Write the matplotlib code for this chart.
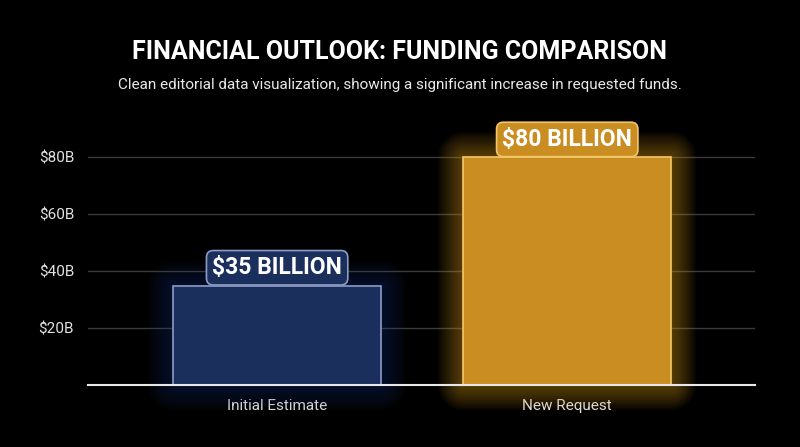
import matplotlib
matplotlib.use("Agg")
import matplotlib.pyplot as plt
import matplotlib.patheffects as pe

categories = ["Initial Estimate", "New Request"]
values = [35, 80]
value_labels = ["$35 BILLION", "$80 BILLION"]
yticks = [20, 40, 60, 80]
ytick_labels = ["$20B", "$40B", "$60B", "$80B"]

fills = ["#1b2f5c", "#c98d22"]
edges = ["#8c9cc4", "#f2c768"]
glows = ["#203c80", "#d89a1c"]
glow_alpha = [0.035, 0.045]

plt.rcParams["font.family"] = ["Roboto", "DejaVu Sans"]

fig = plt.figure(figsize=(8, 4.47), dpi=100, facecolor="black")
ax = fig.add_axes([0.11, 0.1376, 0.834, 0.574])
ax.set_facecolor("black")

bars = ax.bar(range(len(values)), values, width=0.717, color=fills,
              edgecolor=edges, linewidth=1.2, zorder=3, clip_on=False)
for b, g, a in zip(bars, glows, glow_alpha):
    # soft glow: stacked translucent strokes around the bar outline
    effects = [pe.Stroke(linewidth=w, foreground=g, alpha=a, joinstyle="round")
               for w in range(36, 0, -3)]
    b.set_path_effects(effects + [pe.Normal()])

for i, (v, lab) in enumerate(zip(values, value_labels)):
    ax.text(i, v + 6.3, lab, ha="center", va="center", color="white",
            fontsize=16.5, fontweight="bold", zorder=5, clip_on=False,
            bbox=dict(boxstyle="round,pad=0.25,rounding_size=0.3",
                      facecolor=fills[i], edgecolor=edges[i], linewidth=1.2))

ax.set_xlim(-0.652, 1.648)
ax.set_ylim(0, 90)
ax.set_yticks(yticks)
ax.set_yticklabels(ytick_labels)
ax.set_xticks(range(len(categories)))
ax.set_xticklabels(categories)
ax.tick_params(axis="both", length=0, colors="#e2e2e2", labelsize=11)
ax.tick_params(axis="x", pad=10)
ax.tick_params(axis="y", pad=10)
ax.grid(axis="y", color="#3a3a3a", linewidth=1, zorder=0)
for s in ["top", "right", "left"]:
    ax.spines[s].set_visible(False)
ax.spines["bottom"].set_color("#e8e8e8")
ax.spines["bottom"].set_linewidth(1.5)
ax.spines["bottom"].set_zorder(4)

fig.text(0.5, 0.883, "FINANCIAL OUTLOOK: FUNDING COMPARISON", ha="center",
         va="center", color="white", fontsize=18, fontweight="bold")
fig.text(0.5, 0.81, "Clean editorial data visualization, showing a significant increase in requested funds.",
         ha="center", va="center", color="#e8e8e8", fontsize=11)

fig.savefig("out.png", dpi=100, facecolor="black")
